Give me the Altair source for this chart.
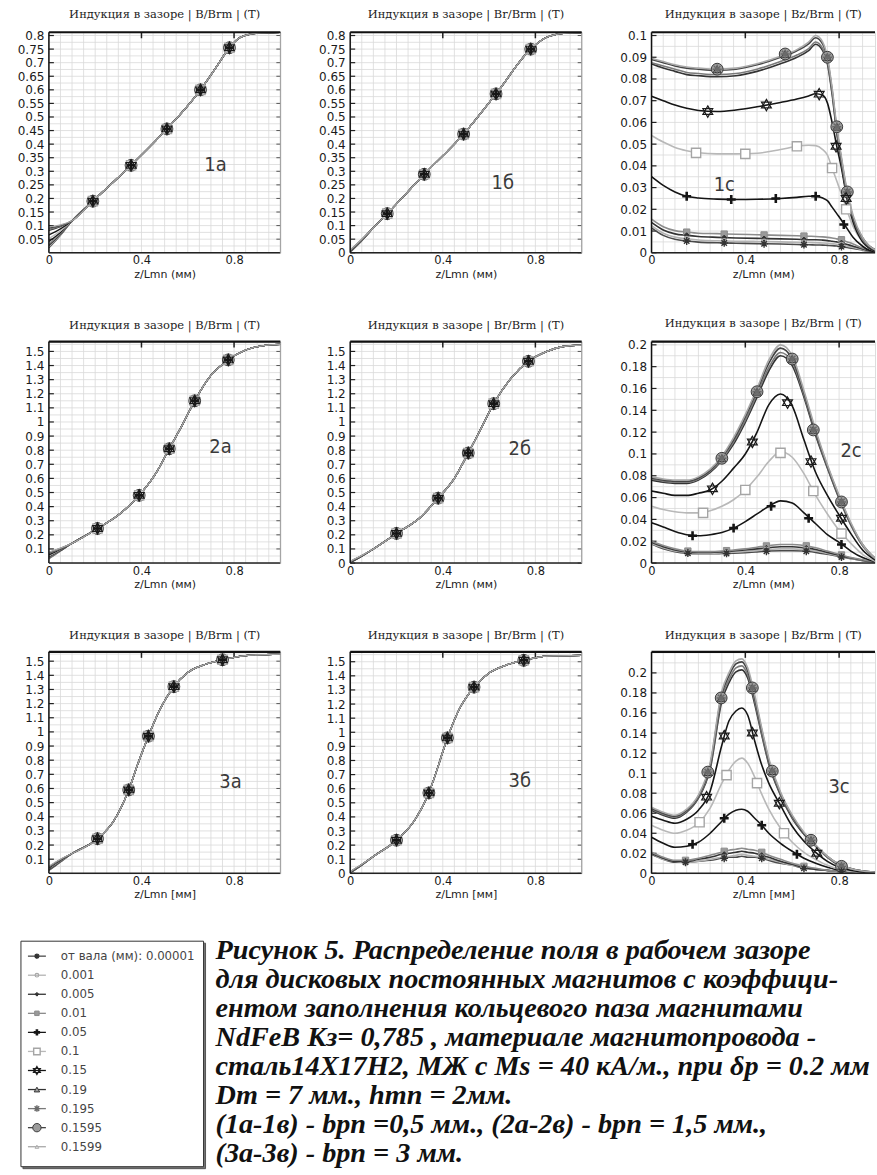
import altair as alt
import pandas as pd

# ------------------------------------------------------------------ series
SERIES = ["0.00001", "0.001", "0.005", "0.01", "0.05", "0.1", "0.15",
          "0.19", "0.195", "0.1595", "0.1599"]
LEGEND_TEXT = ["от вала (мм): 0.00001", "0.001", "0.005", "0.01", "0.05", "0.1",
               "0.15", "0.19", "0.195", "0.1595", "0.1599"]
X_TICKS = [0, 0.4, 0.8]
TOP_TICKS = [0.4, 0.8]

# y tick labels per panel
YT_1A = [0.05, 0.1, 0.15, 0.2, 0.25, 0.3, 0.35, 0.4, 0.45, 0.5, 0.55, 0.6, 0.65, 0.7, 0.75, 0.8]
YT_1B = [0] + YT_1A
YT_1C = [0, 0.01, 0.02, 0.03, 0.04, 0.05, 0.06, 0.07, 0.08, 0.09, 0.1]
YT_2A = [0.1, 0.2, 0.3, 0.4, 0.5, 0.6, 0.7, 0.8, 0.9, 1, 1.1, 1.2, 1.3, 1.4, 1.5]
YT_2B = [0] + YT_2A
YT_C2 = [0, 0.02, 0.04, 0.06, 0.08, 0.1, 0.12, 0.14, 0.16, 0.18, 0.2]

# ------------------------------------------------------------------ panels a / б
# common curve (z >= 0.1), plus per-series values at z=0 and z=0.05
Z_1A = [0, 0.05, 0.1, 0.19, 0.355, 0.51, 0.655, 0.72, 0.78, 0.82, 0.87, 0.93, 1.0]
B_1A = [0.118, 0.19, 0.322, 0.456, 0.6, 0.68, 0.755, 0.79, 0.805, 0.81, 0.812]
B0_1A = [0.018, 0.022, 0.027, 0.033, 0.042, 0.052, 0.066, 0.082, 0.086, 0.091, 0.096]
B1_1A = [0.064, 0.066, 0.068, 0.071, 0.075, 0.08, 0.088, 0.096, 0.098, 0.1, 0.103]
MZ_1A = [0.19, 0.355, 0.51, 0.655, 0.78]
MB_1A = [0.19, 0.322, 0.456, 0.6, 0.755]

Z_1B = [0, 0.05, 0.1, 0.16, 0.32, 0.49, 0.63, 0.78, 0.84, 0.9, 0.95, 1.0]
B_1B = [0.092, 0.144, 0.289, 0.437, 0.585, 0.75, 0.79, 0.806, 0.81, 0.811]
B0_1B = [0.002, 0.002, 0.003, 0.003, 0.004, 0.005, 0.006, 0.008, 0.008, 0.009, 0.01]
B1_1B = [0.044, 0.044, 0.045, 0.045, 0.046, 0.046, 0.047, 0.048, 0.048, 0.049, 0.05]
MZ_1B = [0.16, 0.32, 0.49, 0.63, 0.78]
MB_1B = [0.144, 0.289, 0.437, 0.585, 0.75]

Z_2A = [0, 0.05, 0.1, 0.21, 0.3, 0.39, 0.46, 0.52, 0.58, 0.63, 0.7, 0.775, 0.85, 0.92, 1.0]
B_2A = [0.14, 0.245, 0.34, 0.48, 0.63, 0.81, 0.99, 1.15, 1.33, 1.44, 1.51, 1.54, 1.55]
B0_2A = [0.03, 0.033, 0.036, 0.04, 0.045, 0.05, 0.058, 0.066, 0.07, 0.074, 0.078]
B1_2A = [0.085, 0.086, 0.088, 0.09, 0.092, 0.095, 0.098, 0.1, 0.102, 0.104, 0.106]
MZ_2A = [0.21, 0.39, 0.52, 0.63, 0.775]
MB_2A = [0.245, 0.48, 0.81, 1.15, 1.44]

Z_2B = [0, 0.05, 0.1, 0.2, 0.3, 0.38, 0.45, 0.51, 0.57, 0.62, 0.7, 0.77, 0.85, 0.92, 1.0]
B_2B = [0.1, 0.21, 0.32, 0.46, 0.6, 0.78, 0.97, 1.13, 1.32, 1.43, 1.5, 1.535, 1.545]
B0_2B = [0.003, 0.003, 0.004, 0.004, 0.005, 0.006, 0.007, 0.009, 0.01, 0.011, 0.012]
B1_2B = [0.048, 0.048, 0.049, 0.049, 0.05, 0.05, 0.051, 0.052, 0.052, 0.053, 0.054]
MZ_2B = [0.2, 0.38, 0.51, 0.62, 0.77]
MB_2B = [0.21, 0.46, 0.78, 1.13, 1.43]

Z_3A = [0, 0.05, 0.1, 0.21, 0.28, 0.345, 0.39, 0.43, 0.48, 0.54, 0.6, 0.68, 0.75, 0.85, 1.0]
B_3A = [0.14, 0.245, 0.37, 0.59, 0.8, 0.97, 1.16, 1.32, 1.42, 1.48, 1.51, 1.54, 1.55]
B0_3A = [0.02, 0.022, 0.024, 0.027, 0.03, 0.034, 0.038, 0.042, 0.044, 0.047, 0.05]
B1_3A = [0.08, 0.081, 0.083, 0.085, 0.087, 0.09, 0.093, 0.095, 0.096, 0.098, 0.1]
MZ_3A = [0.21, 0.345, 0.43, 0.54, 0.75]
MB_3A = [0.245, 0.59, 0.97, 1.32, 1.51]

Z_3B = [0, 0.05, 0.1, 0.2, 0.28, 0.34, 0.38, 0.42, 0.47, 0.535, 0.6, 0.68, 0.75, 0.85, 1.0]
B_3B = [0.12, 0.235, 0.38, 0.57, 0.76, 0.96, 1.16, 1.32, 1.42, 1.48, 1.51, 1.54, 1.545]
B0_3B = [0.003, 0.003, 0.004, 0.004, 0.005, 0.006, 0.007, 0.009, 0.01, 0.011, 0.012]
B1_3B = [0.058, 0.058, 0.059, 0.059, 0.06, 0.06, 0.061, 0.062, 0.062, 0.063, 0.064]
MZ_3B = [0.2, 0.34, 0.42, 0.535, 0.75]
MB_3B = [0.235, 0.57, 0.96, 1.32, 1.51]

# ------------------------------------------------------------------ panels c (Bz)
Z_1C = [0, 0.05, 0.1, 0.15, 0.2, 0.28, 0.36, 0.45, 0.55, 0.62, 0.67, 0.70, 0.73,
        0.75, 0.77, 0.79, 0.81, 0.835, 0.86, 0.9, 0.93, 0.96]
Y_1C = {
    "0.1599": [0.0895, 0.088, 0.0865, 0.0855, 0.085, 0.0845, 0.085, 0.087, 0.0905, 0.0935, 0.097, 0.1, 0.097, 0.09, 0.076, 0.058, 0.044, 0.028, 0.017, 0.007, 0.003, 0.001],
    "0.1595": [0.089, 0.0875, 0.086, 0.085, 0.0845, 0.084, 0.0845, 0.0865, 0.09, 0.093, 0.0962, 0.099, 0.096, 0.089, 0.075, 0.057, 0.043, 0.027, 0.016, 0.007, 0.003, 0.001],
    "0.195": [0.0875, 0.086, 0.0845, 0.083, 0.0825, 0.082, 0.0825, 0.0845, 0.088, 0.091, 0.094, 0.097, 0.094, 0.088, 0.074, 0.056, 0.042, 0.026, 0.016, 0.006, 0.003, 0.001],
    "0.19": [0.087, 0.085, 0.0835, 0.082, 0.0815, 0.081, 0.0815, 0.0835, 0.087, 0.09, 0.093, 0.096, 0.093, 0.087, 0.073, 0.055, 0.041, 0.025, 0.015, 0.006, 0.002, 0.001],
    "0.15": [0.072, 0.07, 0.068, 0.0665, 0.0655, 0.065, 0.0657, 0.0672, 0.0692, 0.0708, 0.0722, 0.0732, 0.0725, 0.069, 0.06, 0.049, 0.039, 0.024, 0.014, 0.005, 0.002, 0.0005],
    "0.1": [0.054, 0.051, 0.0485, 0.047, 0.046, 0.0455, 0.0455, 0.0458, 0.0475, 0.049, 0.0495, 0.0493, 0.0475, 0.045, 0.039, 0.033, 0.027, 0.019, 0.012, 0.005, 0.002, 0.0005],
    "0.05": [0.035, 0.031, 0.028, 0.026, 0.0252, 0.0247, 0.0245, 0.0246, 0.025, 0.0255, 0.026, 0.026, 0.0252, 0.024, 0.021, 0.018, 0.015, 0.011, 0.007, 0.003, 0.001, 0.0003],
    "0.01": [0.0155, 0.012, 0.0102, 0.0095, 0.009, 0.0088, 0.0085, 0.0083, 0.008, 0.0078, 0.0076, 0.0075, 0.0073, 0.0071, 0.0068, 0.0064, 0.006, 0.005, 0.004, 0.0022, 0.0011, 0.0003],
    "0.005": [0.014, 0.0105, 0.0087, 0.008, 0.0075, 0.0071, 0.0068, 0.0066, 0.0064, 0.0062, 0.006, 0.006, 0.0058, 0.0056, 0.0053, 0.005, 0.0046, 0.0038, 0.003, 0.0017, 0.0008, 0.0002],
    "0.001": [0.0125, 0.009, 0.0072, 0.0064, 0.0059, 0.0055, 0.0053, 0.0052, 0.005, 0.0048, 0.0047, 0.0046, 0.0045, 0.0044, 0.0042, 0.0039, 0.0036, 0.003, 0.0024, 0.0014, 0.0007, 0.0002],
    "0.00001": [0.0115, 0.008, 0.0062, 0.0054, 0.0049, 0.0046, 0.0044, 0.0042, 0.004, 0.0038, 0.0037, 0.0036, 0.0035, 0.0034, 0.0033, 0.0031, 0.0028, 0.0024, 0.002, 0.0012, 0.0006, 0.0002],
}
M1C_TOP = ([0.28, 0.57, 0.75, 0.79, 0.835], [0.0845, 0.0915, 0.09, 0.058, 0.028])
M_1C = {
    "0.1599": M1C_TOP, "0.1595": M1C_TOP, "0.195": M1C_TOP, "0.19": M1C_TOP,
    "0.15": ([0.24, 0.49, 0.715, 0.787, 0.83], [0.065, 0.068, 0.073, 0.049, 0.025]),
    "0.1": ([0.19, 0.40, 0.62, 0.77, 0.83], [0.046, 0.0455, 0.049, 0.039, 0.02]),
    "0.05": ([0.15, 0.34, 0.53, 0.70, 0.82], [0.026, 0.0245, 0.025, 0.026, 0.013]),
    "0.01": ([0.15, 0.31, 0.48, 0.65, 0.81], [0.0095, 0.0086, 0.0082, 0.0077, 0.006]),
    "0.005": ([0.15, 0.31, 0.48, 0.65, 0.81], [0.008, 0.0069, 0.0065, 0.006, 0.0046]),
    "0.001": ([0.15, 0.31, 0.48, 0.65, 0.81], [0.0064, 0.0054, 0.0051, 0.0047, 0.0036]),
    "0.00001": ([0.15, 0.31, 0.48, 0.65, 0.81], [0.0054, 0.0045, 0.0041, 0.0037, 0.0028]),
}

Z_2C = [0, 0.05, 0.1, 0.15, 0.2, 0.25, 0.3, 0.35, 0.4, 0.45, 0.5, 0.55, 0.6, 0.65,
        0.7, 0.75, 0.8, 0.85, 0.9, 0.96]
Y_2C = {
    "0.1599": [0.079, 0.077, 0.076, 0.076, 0.079, 0.086, 0.098, 0.115, 0.136, 0.16, 0.186, 0.2, 0.19, 0.158, 0.122, 0.09, 0.062, 0.037, 0.017, 0.003],
    "0.1595": [0.078, 0.076, 0.075, 0.075, 0.078, 0.085, 0.097, 0.113, 0.134, 0.158, 0.183, 0.197, 0.187, 0.156, 0.12, 0.089, 0.061, 0.036, 0.017, 0.003],
    "0.195": [0.077, 0.075, 0.074, 0.074, 0.077, 0.084, 0.095, 0.111, 0.131, 0.155, 0.179, 0.193, 0.184, 0.154, 0.119, 0.088, 0.06, 0.035, 0.016, 0.003],
    "0.19": [0.076, 0.074, 0.073, 0.073, 0.076, 0.083, 0.094, 0.109, 0.129, 0.152, 0.176, 0.19, 0.181, 0.152, 0.117, 0.087, 0.059, 0.035, 0.016, 0.003],
    "0.15": [0.066, 0.064, 0.062, 0.062, 0.064, 0.067, 0.075, 0.087, 0.1, 0.12, 0.145, 0.155, 0.144, 0.113, 0.083, 0.062, 0.044, 0.027, 0.012, 0.002],
    "0.1": [0.052, 0.049, 0.047, 0.046, 0.046, 0.048, 0.052, 0.058, 0.067, 0.079, 0.093, 0.102, 0.097, 0.082, 0.062, 0.045, 0.03, 0.018, 0.008, 0.001],
    "0.05": [0.037, 0.033, 0.029, 0.026, 0.025, 0.026, 0.028, 0.032, 0.038, 0.045, 0.052, 0.057, 0.055, 0.046, 0.036, 0.026, 0.019, 0.011, 0.005, 0.001],
    "0.01": [0.02, 0.016, 0.013, 0.011, 0.0105, 0.0105, 0.011, 0.012, 0.013, 0.0145, 0.016, 0.017, 0.017, 0.016, 0.014, 0.011, 0.008, 0.005, 0.003, 0.001],
    "0.005": [0.019, 0.015, 0.012, 0.0102, 0.0097, 0.0097, 0.0102, 0.011, 0.012, 0.013, 0.014, 0.015, 0.015, 0.014, 0.0125, 0.0098, 0.0072, 0.0046, 0.0026, 0.0008],
    "0.001": [0.018, 0.014, 0.011, 0.0096, 0.0091, 0.0091, 0.0094, 0.0099, 0.0106, 0.0115, 0.0124, 0.013, 0.013, 0.0124, 0.011, 0.0088, 0.0065, 0.0042, 0.0024, 0.0007],
    "0.00001": [0.0175, 0.0132, 0.0105, 0.009, 0.0085, 0.0085, 0.0087, 0.009, 0.0095, 0.0102, 0.011, 0.0113, 0.0113, 0.011, 0.0098, 0.008, 0.006, 0.004, 0.0022, 0.0006],
}
M2C_TOP = ([0.3, 0.45, 0.6, 0.69, 0.81], [0.096, 0.157, 0.187, 0.122, 0.056])
M_2C = {
    "0.1599": M2C_TOP, "0.1595": M2C_TOP, "0.195": M2C_TOP, "0.19": M2C_TOP,
    "0.15": ([0.26, 0.43, 0.58, 0.68, 0.81], [0.068, 0.111, 0.147, 0.093, 0.041]),
    "0.1": ([0.22, 0.4, 0.55, 0.69, 0.81], [0.046, 0.067, 0.101, 0.066, 0.027]),
    "0.05": ([0.175, 0.35, 0.51, 0.67, 0.81], [0.025, 0.032, 0.052, 0.041, 0.017]),
    "0.01": ([0.155, 0.32, 0.49, 0.66, 0.81], [0.011, 0.0114, 0.0157, 0.0158, 0.0074]),
    "0.005": ([0.155, 0.32, 0.49, 0.66, 0.81], [0.0101, 0.0105, 0.0138, 0.0137, 0.0067]),
    "0.001": ([0.155, 0.32, 0.49, 0.66, 0.81], [0.0095, 0.0096, 0.0122, 0.0121, 0.006]),
    "0.00001": ([0.155, 0.32, 0.49, 0.66, 0.81], [0.009, 0.0088, 0.0108, 0.0108, 0.0055]),
}

Z_3C = [0, 0.05, 0.1, 0.15, 0.2, 0.25, 0.3, 0.33, 0.36, 0.385, 0.41, 0.44, 0.47, 0.5,
        0.55, 0.6, 0.65, 0.7, 0.75, 0.8, 0.88, 0.96]
Y_3C = {
    "0.1599": [0.066, 0.061, 0.058, 0.064, 0.078, 0.11, 0.182, 0.2, 0.212, 0.214, 0.205, 0.178, 0.145, 0.115, 0.081, 0.058, 0.041, 0.028, 0.017, 0.009, 0.003, 0.001],
    "0.1595": [0.065, 0.06, 0.057, 0.063, 0.077, 0.108, 0.179, 0.197, 0.209, 0.211, 0.202, 0.175, 0.143, 0.113, 0.08, 0.057, 0.04, 0.028, 0.017, 0.009, 0.003, 0.001],
    "0.195": [0.064, 0.059, 0.056, 0.062, 0.076, 0.106, 0.176, 0.193, 0.205, 0.207, 0.198, 0.172, 0.14, 0.111, 0.079, 0.056, 0.04, 0.027, 0.016, 0.009, 0.003, 0.001],
    "0.19": [0.063, 0.058, 0.055, 0.061, 0.075, 0.104, 0.172, 0.19, 0.201, 0.203, 0.195, 0.169, 0.138, 0.109, 0.078, 0.055, 0.039, 0.027, 0.016, 0.008, 0.003, 0.001],
    "0.15": [0.057, 0.053, 0.05, 0.054, 0.063, 0.082, 0.128, 0.152, 0.162, 0.165, 0.158, 0.132, 0.108, 0.09, 0.068, 0.047, 0.032, 0.021, 0.012, 0.006, 0.002, 0.0005],
    "0.1": [0.048, 0.043, 0.04, 0.043, 0.05, 0.065, 0.09, 0.103, 0.112, 0.115, 0.11, 0.096, 0.079, 0.064, 0.045, 0.031, 0.021, 0.014, 0.008, 0.004, 0.001, 0.0003],
    "0.05": [0.036, 0.03, 0.026, 0.027, 0.031, 0.04, 0.052, 0.059, 0.063, 0.064, 0.062, 0.055, 0.048, 0.04, 0.03, 0.022, 0.015, 0.01, 0.006, 0.003, 0.001, 0.0003],
    "0.01": [0.021, 0.016, 0.013, 0.013, 0.015, 0.018, 0.021, 0.023, 0.024, 0.025, 0.024, 0.023, 0.021, 0.018, 0.014, 0.01, 0.007, 0.005, 0.003, 0.002, 0.001, 0.0003],
    "0.005": [0.02, 0.015, 0.012, 0.012, 0.014, 0.016, 0.019, 0.02, 0.021, 0.022, 0.021, 0.02, 0.018, 0.016, 0.012, 0.009, 0.006, 0.004, 0.003, 0.002, 0.001, 0.0003],
    "0.001": [0.02, 0.014, 0.012, 0.011, 0.012, 0.014, 0.016, 0.017, 0.018, 0.019, 0.018, 0.017, 0.016, 0.014, 0.011, 0.008, 0.006, 0.004, 0.003, 0.002, 0.001, 0.0003],
    "0.00001": [0.019, 0.014, 0.011, 0.011, 0.012, 0.013, 0.015, 0.016, 0.016, 0.017, 0.016, 0.016, 0.015, 0.013, 0.01, 0.008, 0.005, 0.004, 0.003, 0.002, 0.001, 0.0003],
}
M3C_TOP = ([0.24, 0.297, 0.43, 0.515, 0.68, 0.81], [0.101, 0.175, 0.185, 0.102, 0.033, 0.007])
M_3C = {
    "0.1599": M3C_TOP, "0.1595": M3C_TOP, "0.195": M3C_TOP, "0.19": M3C_TOP,
    "0.15": ([0.235, 0.31, 0.43, 0.545, 0.705], [0.076, 0.137, 0.14, 0.07, 0.02]),
    "0.1": ([0.205, 0.32, 0.45, 0.565], [0.051, 0.098, 0.09, 0.04]),
    "0.05": ([0.175, 0.31, 0.47, 0.62], [0.029, 0.055, 0.048, 0.019]),
    "0.01": ([0.145, 0.31, 0.47, 0.65, 0.81], [0.013, 0.022, 0.021, 0.007, 0.002]),
    "0.005": ([0.145, 0.31, 0.47, 0.65, 0.81], [0.012, 0.019, 0.018, 0.006, 0.002]),
    "0.001": ([0.145, 0.31, 0.47, 0.65, 0.81], [0.011, 0.016, 0.016, 0.006, 0.002]),
    "0.00001": ([0.145, 0.31, 0.47, 0.65, 0.81], [0.011, 0.015, 0.015, 0.005, 0.002]),
}

NB = "\u00a0"
CAPTION = [
    "Рисунок 5. Распределение поля в рабочем зазоре",
    "для дисковых постоянных магнитов с коэффици-",
    "ентом заполнения кольцевого паза   магнитами",
    NB + "NdFeB Кз= 0,785 , материале магнитопровода -",
    NB + "сталь14Х17Н2, МЖ с Ms = 40 кА/м., при δр = 0.2 мм",
    NB + "Dm = 7 мм., hmn = 2мм.",
    "(1а-1в) - bpn =0,5 мм., (2а-2в) - bpn = 1,5 мм.,",
    "(3а-3в) - bpn = 3 мм.",
]

# ------------------------------------------------------------------ styles
FONT = "DejaVu Sans"
TFONT = "DejaVu Serif"
LABFONT = "Liberation Sans Narrow, DejaVu Sans Condensed, sans-serif"
GRID = "#d9d9d9"
ASTER = "M-1,0L1,0M0,-1L0,1M-0.7,-0.7L0.7,0.7M-0.7,0.7L0.7,-0.7"
PLUS = "M-1,0L1,0M0,-1L0,1"
HEXA = "M0,-1L0.866,0.5L-0.866,0.5ZM0,1L0.866,-0.5L-0.866,-0.5Z"
STYLE = {
    "0.00001": dict(line="#4a4a4a", shape=ASTER, size=60, fill="transparent", stroke="#333333", sw=1.4),
    "0.001": dict(line="#b3b3b3", shape="circle", size=26, fill="transparent", stroke="#a8a8a8", sw=1.2),
    "0.005": dict(line="#333333", shape="diamond", size=28, fill="#333333", stroke="#333333", sw=1),
    "0.01": dict(line="#8c8c8c", shape="square", size=40, fill="#9a9a9a", stroke="#8c8c8c", sw=1),
    "0.05": dict(line="#151515", shape=PLUS, size=80, fill="transparent", stroke="#151515", sw=2.6),
    "0.1": dict(line="#b8b8b8", shape="square", size=85, fill="white", stroke="#a5a5a5", sw=1.4),
    "0.15": dict(line="#151515", shape=HEXA, size=130, fill="transparent", stroke="#1a1a1a", sw=1.2),
    "0.19": dict(line="#333333", shape="triangle-up", size=60, fill="#a0a0a0", stroke="#333333", sw=1),
    "0.195": dict(line="#7a7a7a", shape=ASTER, size=85, fill="transparent", stroke="#6a6a6a", sw=1.4),
    "0.1595": dict(line="#444444", shape="circle", size=140, fill="#9c9c9c", stroke="#3a3a3a", sw=1),
    "0.1599": dict(line="#a8a8a8", shape="triangle-up", size=28, fill="transparent", stroke="#b0b0b0", sw=1),
}
DRAW_ORDER = ["0.1595", "0.01", "0.005", "0.001", "0.1599", "0.19", "0.195",
              "0.00001", "0.1", "0.05", "0.15"]
LINE_COLORS = [STYLE[s]["line"] for s in SERIES]
DUMMY = pd.DataFrame({"k": [0]})


def ab_lines(Z, B, B0, B1):
    rows = []
    for i, s in enumerate(SERIES):
        for z, b in zip(Z, [B0[i], B1[i]] + B):
            rows.append((s, z, b))
    return pd.DataFrame(rows, columns=["s", "z", "b"])


def c_lines(Z, Y):
    rows = []
    for s in SERIES:
        for z, b in zip(Z, Y[s]):
            rows.append((s, z, b))
    return pd.DataFrame(rows, columns=["s", "z", "b"])


def point_mark(st, scale=1.0, clip=True):
    return dict(shape=st["shape"], size=st["size"] * scale, fill=st["fill"],
                stroke=st["stroke"], strokeWidth=st["sw"], opacity=1,
                filled=st["fill"] != "transparent", clip=clip)


def panel(title, xtitle, lines_df, markers, ymax, yticks, ystep, label, lpos,
          xmax=1.0, W=232, H=222, right=True, extra=(), lw=1.3):
    xs = alt.Scale(domain=[0, xmax], nice=False, zero=False)
    ys = alt.Scale(domain=[0, ymax], nice=False, zero=False)
    xaxis = alt.Axis(values=X_TICKS, format="~g", title=xtitle, labelFlush=False,
                     labelOverlap=False, ticks=False, domain=False, grid=False,
                     labelFont=FONT, labelFontSize=11.5, labelColor="#1a1a1a",
                     labelPadding=2, titleFont=FONT, titleFontSize=11,
                     titleFontWeight="normal", titleColor="#222", titlePadding=2)
    yaxis = alt.Axis(values=yticks, format="~g", title=None, labelFlush=False,
                     labelOverlap=False, ticks=False, domain=False, grid=False,
                     labelFont=FONT, labelFontSize=12, labelColor="#1a1a1a",
                     labelPadding=5)

    def X(f):
        return alt.X(f, type="quantitative", scale=xs, axis=xaxis)

    def Y(f):
        return alt.Y(f, type="quantitative", scale=ys, axis=yaxis)

    xg = [round(0.05 * i, 3) for i in range(1, 40) if 0.05 * i < xmax - 0.01]
    yg = [round(ystep * i, 5) for i in range(1, 200) if ystep * i < ymax - 1e-9]
    L = []
    L.append(alt.Chart(pd.DataFrame({"g": xg})).mark_rule(color=GRID, strokeWidth=0.8)
             .encode(x=X("g"), y=alt.value(0), y2=alt.value(H)))
    L.append(alt.Chart(pd.DataFrame({"g": yg})).mark_rule(color=GRID, strokeWidth=0.8)
             .encode(y=Y("g"), x=alt.value(0), x2=alt.value(W)))
    tdf = pd.DataFrame({"t": yticks})
    L.append(alt.Chart(tdf).mark_rule(color="#222", strokeWidth=1.2)
             .encode(y=Y("t"), x=alt.value(0), x2=alt.value(5)))
    if right:
        L.append(alt.Chart(tdf).mark_rule(color="#555", strokeWidth=1)
                 .encode(y=Y("t"), x=alt.value(W - 4), x2=alt.value(W)))
    L.append(alt.Chart(pd.DataFrame({"t": TOP_TICKS})).mark_rule(color="#222", strokeWidth=1.5)
             .encode(x=X("t"), y=alt.value(0), y2=alt.value(6)))
    L.append(alt.Chart(lines_df).mark_line(interpolate="monotone", strokeWidth=lw, clip=True)
             .encode(x=X("z"), y=Y("b"),
                     color=alt.Color("s:N", scale=alt.Scale(domain=SERIES, range=LINE_COLORS),
                                     legend=None),
                     detail="s:N"))
    for s in DRAW_ORDER:
        mz, mb = markers[s]
        L.append(alt.Chart(pd.DataFrame({"z": mz, "b": mb}))
                 .mark_point(**point_mark(STYLE[s]))
                 .encode(x=X("z"), y=Y("b")))
    # frame
    L.append(alt.Chart(DUMMY).mark_rule(color="#111", strokeWidth=1.5)
             .encode(x=alt.value(0), y=alt.value(0), y2=alt.value(H)))
    L.append(alt.Chart(DUMMY).mark_rule(color="#222", strokeWidth=1.5)
             .encode(x=alt.value(0), x2=alt.value(W), y=alt.value(H)))
    if right:
        L.append(alt.Chart(DUMMY).mark_rule(color="#9a9a9a", strokeWidth=1)
                 .encode(x=alt.value(W), y=alt.value(0), y2=alt.value(H)))
    L.append(alt.Chart(DUMMY).mark_rule(color="#111", strokeWidth=2.2)
             .encode(x=alt.value(0), x2=alt.value(W), y=alt.value(0)))
    L.append(alt.Chart(DUMMY).mark_text(text=label, font=LABFONT, fontSize=20,
                                       color="#3a3a3a", align="center", baseline="middle")
             .encode(x=alt.value(lpos[0]), y=alt.value(lpos[1])))
    L.extend(extra)
    return alt.layer(*L).properties(
        width=W, height=H,
        title=alt.TitleParams(title, font=TFONT, fontSize=11.5, fontWeight="normal",
                              color="#222", offset=9, anchor="middle"))


# ------------------------------------------------------------------ legend + caption
# drawn inside panel 3a, below its plot area (pixel offsets from that plot's corner)
LEG_TOP, LEG_BOT, LEG_L, LEG_R = 290, 516, -28, 155
ROW0, ROWSTEP = 305, 19.1
CAP0, CAPSTEP = 300, 29.1
BOTTOM = []
BOTTOM.append(alt.Chart(DUMMY).mark_rect(fill="#777", stroke="#555", strokeWidth=1)
              .encode(x=alt.value(LEG_L + 2), x2=alt.value(LEG_R + 2),
                      y=alt.value(LEG_TOP + 2), y2=alt.value(LEG_BOT + 2)))
BOTTOM.append(alt.Chart(DUMMY).mark_rect(fill="white", stroke="#333", strokeWidth=1)
              .encode(x=alt.value(LEG_L), x2=alt.value(LEG_R),
                      y=alt.value(LEG_TOP), y2=alt.value(LEG_BOT)))
for i, s in enumerate(SERIES):
    st = STYLE[s]
    yy = ROW0 + i * ROWSTEP
    BOTTOM.append(alt.Chart(DUMMY).mark_rule(color=st["line"], strokeWidth=1.3)
                  .encode(x=alt.value(-21), x2=alt.value(-3), y=alt.value(yy)))
    BOTTOM.append(alt.Chart(DUMMY).mark_point(**point_mark(st, 0.5, False))
                  .encode(x=alt.value(-12), y=alt.value(yy)))
    BOTTOM.append(alt.Chart(DUMMY).mark_text(text=LEGEND_TEXT[i], align="left",
                                            baseline="middle", font=FONT, fontSize=11.8,
                                            color="#444")
                  .encode(x=alt.value(12), y=alt.value(yy)))
for k, line in enumerate(CAPTION):
    BOTTOM.append(alt.Chart(DUMMY).mark_text(text=line, align="left", baseline="middle",
                                            font="Liberation Serif", fontStyle="italic",
                                            fontWeight="bold", fontSize=28.3, color="#111")
                  .encode(x=alt.value(167), y=alt.value(CAP0 + k * CAPSTEP)))

T_B = "Индукция в зазоре | B/Brm | (T)"
T_BR = "Индукция в зазоре | Br/Brm | (T)"
T_BZ = "Индукция в зазоре | Bz/Brm | (T)"
XT1 = "z/Lmn (мм)"
XT3 = "z/Lmn [мм]"
C_XMAX = 0.953
C_W = 224


def ab_markers(MZ, MB):
    return {s: (MZ, MB) for s in SERIES}


p1a = panel(T_B, XT1, ab_lines(Z_1A, B_1A, B0_1A, B1_1A), ab_markers(MZ_1A, MB_1A),
            0.812, YT_1A, 0.025, "1а", (167, 133), H=221)
p1b = panel(T_BR, XT1, ab_lines(Z_1B, B_1B, B0_1B, B1_1B), ab_markers(MZ_1B, MB_1B),
            0.812, YT_1B, 0.025, "1б", (153, 151), H=221)
p1c = panel(T_BZ, XT1, c_lines(Z_1C, Y_1C), M_1C, 0.1015, YT_1C, 0.005, "1с", (73, 153),
            xmax=C_XMAX, W=C_W, H=221, right=False, lw=1.6)
p2a = panel(T_B, XT1, ab_lines(Z_2A, B_2A, B0_2A, B1_2A), ab_markers(MZ_2A, MB_2A),
            1.57, YT_2A, 0.05, "2а", (172, 106))
p2b = panel(T_BR, XT1, ab_lines(Z_2B, B_2B, B0_2B, B1_2B), ab_markers(MZ_2B, MB_2B),
            1.57, YT_2B, 0.05, "2б", (170, 108))
p2c = panel(T_BZ, XT1, c_lines(Z_2C, Y_2C), M_2C, 0.203, YT_C2, 0.01, "2с", (200, 110),
            xmax=C_XMAX, W=C_W, right=False, lw=1.6)
p3a = panel(T_B, XT3, ab_lines(Z_3A, B_3A, B0_3A, B1_3A), ab_markers(MZ_3A, MB_3A),
            1.566, YT_2A, 0.05, "3а", (182, 130), extra=BOTTOM)
p3b = panel(T_BR, XT3, ab_lines(Z_3B, B_3B, B0_3B, B1_3B), ab_markers(MZ_3B, MB_3B),
            1.57, YT_2B, 0.05, "3б", (170, 129))
p3c = panel(T_BZ, XT3, c_lines(Z_3C, Y_3C), M_3C, 0.221, YT_C2, 0.01, "3с", (188, 135),
            xmax=C_XMAX, W=C_W, right=False, lw=1.6)

chart = alt.concat(p1a, p1b, p1c, p2a, p2b, p2c, p3a, p3b, p3c, columns=3,
                   spacing={"row": 89, "column": 70}, bounds="flush").properties(
    padding={"left": 16, "top": 7, "right": 0, "bottom": 0}
).configure_view(stroke=None).configure(background="white")

chart.save("out.html", embed_options={"renderer": "svg", "actions": False})
